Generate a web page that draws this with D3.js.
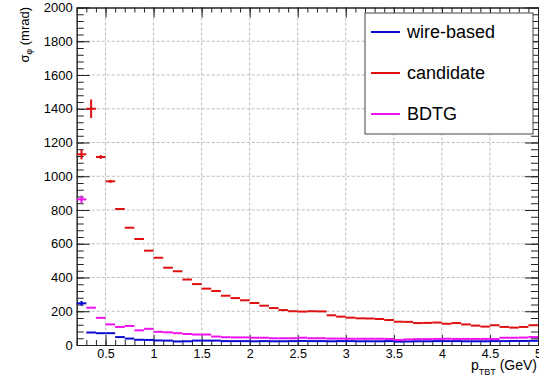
<!DOCTYPE html>
<html>
<head>
<meta charset="utf-8">
<script src="https://cdn.jsdelivr.net/npm/d3@7.9.0/dist/d3.min.js"></script>
<style>
  html, body { margin: 0; padding: 0; background: #fff; }
  svg { display: block; font-family: "Liberation Sans", Arial, sans-serif; }
</style>
</head>
<body>
<svg id="chart" width="539" height="378"></svg>
<script>
// ---- data ----
// bin centres, 0.1 GeV wide bins from 0.2 to 5.0
const binCenters = [
  0.25, 0.35, 0.45, 0.55, 0.65, 0.75, 0.85, 0.95, 1.05, 1.15, 1.25, 1.35,
  1.45, 1.55, 1.65, 1.75, 1.85, 1.95, 2.05, 2.15, 2.25, 2.35, 2.45, 2.55,
  2.65, 2.75, 2.85, 2.95, 3.05, 3.15, 3.25, 3.35, 3.45, 3.55, 3.65, 3.75,
  3.85, 3.95, 4.05, 4.15, 4.25, 4.35, 4.45, 4.55, 4.65, 4.75, 4.85, 4.95
];
const binWidth = 0.1;

const wireBased = [
  247, 74, 70, 70, 47, 38, 31, 30, 27, 26, 21, 22,
  26, 26, 26, 23, 23, 23, 22, 23, 22, 22, 23, 24,
  23, 23, 22, 23, 23, 22, 22, 22, 23, 20, 21, 22,
  22, 23, 23, 23, 22, 22, 22, 23, 23, 24, 24, 25
];
const wireBasedErr = [
  14, 3, 2, 2, 1, 1, 1, 1, 1, 1, 1, 1,
  1, 1, 1, 1, 1, 1, 1, 1, 1, 1, 1, 1,
  1, 1, 1, 1, 1, 1, 1, 1, 1, 1, 1, 1,
  1, 1, 1, 1, 1, 1, 1, 1, 1, 1, 1, 1
];

const candidate = [
  1130, 1400, 1114, 970, 806, 695, 628, 559, 517, 458, 437, 388,
  361, 334, 320, 292, 278, 265, 249, 233, 219, 207, 200, 198,
  200, 199, 176, 168, 162, 158, 157, 154, 148, 138, 137, 130,
  131, 133, 126, 130, 122, 115, 109, 117, 107, 103, 107, 117
];
const candidateErr = [
  30, 55, 12, 9, 5, 4, 3, 3, 2, 2, 2, 2,
  2, 2, 2, 2, 2, 2, 2, 2, 2, 2, 2, 2,
  2, 2, 2, 2, 2, 2, 2, 2, 2, 2, 2, 2,
  2, 2, 2, 2, 2, 2, 2, 2, 2, 2, 2, 2
];

const bdtg = [
  863, 221, 161, 122, 107, 113, 87, 96, 78, 75, 70, 65,
  62, 62, 50, 46, 45, 45, 43, 43, 40, 40, 40, 43,
  40, 40, 38, 38, 37, 37, 37, 37, 36, 30, 33, 35,
  35, 36, 37, 36, 36, 36, 36, 35, 43, 43, 44, 47
];
const bdtgErr = [
  22, 3, 2, 2, 1, 1, 1, 1, 1, 1, 1, 1,
  1, 1, 1, 1, 1, 1, 1, 1, 1, 1, 1, 1,
  1, 1, 1, 1, 1, 1, 1, 1, 1, 1, 1, 1,
  1, 1, 1, 1, 1, 1, 1, 1, 1, 1, 1, 1
];

const xMajorTicks = [0.5, 1, 1.5, 2, 2.5, 3, 3.5, 4, 4.5, 5];
const xTickLabels = ["0.5", "1", "1.5", "2", "2.5", "3", "3.5", "4", "4.5", "5"];
const yMajorTicks = [0, 200, 400, 600, 800, 1000, 1200, 1400, 1600, 1800, 2000];

const seriesNames = ["wire-based", "candidate", "BDTG"];
const seriesColors = ["#0a0ad0", "#dd1111", "#ee11ee"];

// ---- layout ----
const svg = d3.select('#chart');
const frame = { left: 76.7, right: 538, top: 7.5, bottom: 345 };

const x = d3.scaleLinear().domain([0.2, 5]).range([frame.left, frame.right]);
const y = d3.scaleLinear().domain([0, 2000]).range([frame.bottom, frame.top]);

// grid (dashed, at major ticks)
const grid = svg.append('g').attr('stroke', '#bcbcbc').attr('stroke-dasharray', '3,2').attr('stroke-width', 1);
grid.selectAll('line.gx').data(xMajorTicks.filter(d => d < 5)).join('line')
  .attr('x1', d => x(d)).attr('x2', d => x(d))
  .attr('y1', frame.top).attr('y2', frame.bottom);
grid.selectAll('line.gy').data(yMajorTicks.filter(d => d > 0 && d < 2000)).join('line')
  .attr('x1', frame.left).attr('x2', frame.right)
  .attr('y1', d => y(d)).attr('y2', d => y(d));

// minor tick values
const xMinor = d3.range(0.2, 5.001, 0.1);
const yMinor = d3.range(0, 2000.1, 40);

// axes: ticks point into the frame, ROOT style
const axisColor = '#222';
function styleAxis(g) {
  g.select('.domain').attr('stroke', axisColor);
  g.selectAll('.tick line').attr('stroke', axisColor);
  g.selectAll('.tick text').attr('fill', '#000').attr('font-size', 13);
}

svg.append('g').attr('transform', `translate(0,${frame.bottom})`)
  .call(d3.axisBottom(x).tickValues(xMinor).tickSizeInner(-5).tickSizeOuter(0).tickFormat(''))
  .call(styleAxis);
svg.append('g').attr('transform', `translate(0,${frame.bottom})`)
  .call(d3.axisBottom(x).tickValues(xMajorTicks).tickSizeInner(-10).tickSizeOuter(0)
    .tickPadding(4).tickFormat((d, i) => xTickLabels[i]))
  .call(styleAxis)
  .call(g => g.selectAll('.tick text').attr('font-size', 12.5));

svg.append('g').attr('transform', `translate(${frame.left},0)`)
  .call(d3.axisLeft(y).tickValues(yMinor).tickSizeInner(-7).tickSizeOuter(0).tickFormat(''))
  .call(styleAxis);
svg.append('g').attr('transform', `translate(${frame.left},0)`)
  .call(d3.axisLeft(y).tickValues(yMajorTicks).tickSizeInner(-13).tickSizeOuter(0)
    .tickPadding(4).tickFormat(d3.format('d')))
  .call(styleAxis);

// top and right axes (ticks only)
svg.append('g').attr('transform', `translate(0,${frame.top})`)
  .call(d3.axisTop(x).tickValues(xMinor).tickSizeInner(-5).tickSizeOuter(0).tickFormat(''))
  .call(styleAxis);
svg.append('g').attr('transform', `translate(0,${frame.top})`)
  .call(d3.axisTop(x).tickValues(xMajorTicks).tickSizeInner(-10).tickSizeOuter(0).tickFormat(''))
  .call(styleAxis);
svg.append('g').attr('transform', `translate(${frame.right},0)`)
  .call(d3.axisRight(y).tickValues(yMinor).tickSizeInner(-7).tickSizeOuter(0).tickFormat(''))
  .call(styleAxis);
svg.append('g').attr('transform', `translate(${frame.right},0)`)
  .call(d3.axisRight(y).tickValues(yMajorTicks).tickSizeInner(-13).tickSizeOuter(0).tickFormat(''))
  .call(styleAxis);

// ---- histograms drawn as ROOT "E" style (bin-wide bar + vertical error) ----
const allSeries = [
  { name: seriesNames[0], values: wireBased, errs: wireBasedErr, color: seriesColors[0] },
  { name: seriesNames[1], values: candidate, errs: candidateErr, color: seriesColors[1] },
  { name: seriesNames[2], values: bdtg, errs: bdtgErr, color: seriesColors[2] }
];

allSeries.forEach(s => {
  const g = svg.append('g').attr('stroke', s.color).attr('stroke-width', 2);
  const pts = binCenters.map((c, i) => ({ c, v: s.values[i], e: s.errs[i] }));
  g.selectAll('line.h').data(pts).join('line').attr('class', 'h')
    .attr('x1', d => x(d.c - binWidth / 2)).attr('x2', d => x(d.c + binWidth / 2))
    .attr('y1', d => y(d.v)).attr('y2', d => y(d.v));
  g.selectAll('line.v').data(pts.filter(d => y(d.v - d.e) - y(d.v + d.e) > 3)).join('line').attr('class', 'v')
    .attr('x1', d => x(d.c)).attr('x2', d => x(d.c))
    .attr('y1', d => y(d.v - d.e)).attr('y2', d => y(d.v + d.e));
});

// ---- axis titles ----
const xTitle = svg.append('text').attr('x', 537).attr('y', 370)
  .attr('text-anchor', 'end').attr('font-size', 14);
xTitle.append('tspan').text('p');
xTitle.append('tspan').attr('font-size', 9).attr('dy', 5).text('TBT');
xTitle.append('tspan').attr('dy', -5).text(' (GeV)');

const yTitle = svg.append('text')
  .attr('transform', 'translate(29,7) rotate(-90)')
  .attr('text-anchor', 'end').attr('font-size', 13);
yTitle.append('tspan').text('σ');
yTitle.append('tspan').attr('font-size', 8.5).attr('dy', 3).text('φ');
yTitle.append('tspan').attr('dy', -3).text(' (mrad)');

// ---- legend ----
const legend = svg.append('g');
legend.append('rect')
  .attr('x', 365).attr('y', 13).attr('width', 168).attr('height', 121)
  .attr('fill', '#fff').attr('stroke', '#444').attr('stroke-width', 1);
const legendY = d3.scalePoint().domain(seriesNames).range([32, 114]);
const items = legend.selectAll('g.item').data(allSeries).join('g').attr('class', 'item');
items.append('line')
  .attr('x1', 371).attr('x2', 400)
  .attr('y1', d => legendY(d.name)).attr('y2', d => legendY(d.name))
  .attr('stroke', d => d.color).attr('stroke-width', 2);
items.append('text')
  .attr('x', 407).attr('y', d => legendY(d.name)).attr('dy', '0.35em')
  .attr('font-size', 18).text(d => d.name);
</script>
</body>
</html>
